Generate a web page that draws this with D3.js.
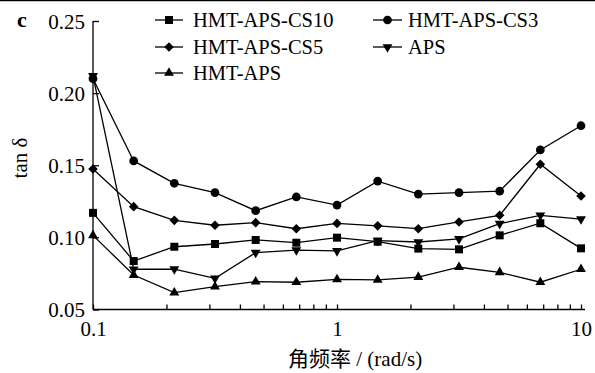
<!DOCTYPE html>
<html><head><meta charset="utf-8">
<script src="https://cdn.jsdelivr.net/npm/d3@7"></script>
<style>body{margin:0;background:#fff}svg{display:block}
svg text{font-family:"Liberation Serif","Times New Roman",Tinos,"DejaVu Serif","Noto Sans CJK SC",serif;fill:#000}</style>
</head><body>
<script>
const freqs = [0.1, 0.1468, 0.2154, 0.3162, 0.4642, 0.6813, 1, 1.468, 2.154, 3.162, 4.642, 6.813, 10];
const cs10 = [0.117, 0.0836, 0.0935, 0.0954, 0.0982, 0.0963, 0.0998, 0.097, 0.0922, 0.0917, 0.1014, 0.1098, 0.0924];
const cs3  = [0.210, 0.153, 0.1375, 0.131, 0.1185, 0.128, 0.1224, 0.139, 0.130, 0.131, 0.132, 0.1606, 0.1774];
const cs5  = [0.1474, 0.1213, 0.1118, 0.1084, 0.1102, 0.106, 0.1097, 0.108, 0.106, 0.1107, 0.1153, 0.1507, 0.1287];
const aps  = [0.212, 0.0779, 0.078, 0.0716, 0.0894, 0.0912, 0.0906, 0.0977, 0.0968, 0.0989, 0.1095, 0.1153, 0.1127];
const hmtAps = [0.1014, 0.0739, 0.0617, 0.0658, 0.0693, 0.0689, 0.0709, 0.0705, 0.0725, 0.0793, 0.0758, 0.0689, 0.0779];
const seriesNames = ["HMT-APS-CS10", "HMT-APS-CS3", "HMT-APS-CS5", "APS", "HMT-APS"];
const yTicks = [0.05, 0.10, 0.15, 0.20, 0.25];
const xTicks = [0.1, 1, 10];

const W = 595, H = 373;
const svg = d3.select("body").append("svg").attr("width", W).attr("height", H);

const x = d3.scaleLog().domain([0.1, 10]).range([93, 581]);
const y = d3.scaleLinear().domain([0.05, 0.25]).range([309.5, 21]);

// top border line
svg.append("line").attr("x1", 0).attr("x2", W).attr("y1", 0.5).attr("y2", 0.5)
  .attr("stroke", "#000").attr("stroke-width", 1.5);

// axes
const minor = d3.range(1, 10).map(d => d * 0.1).concat(d3.range(1, 10)).concat([10]);
const xAxis = d3.axisBottom(x).tickValues(minor).tickSize(-5)
  .tickFormat(d => { const r = +d.toPrecision(3); return xTicks.includes(r) ? String(r) : ""; });
const gx = svg.append("g").attr("transform", `translate(0,${y.range()[0]})`).call(xAxis);
gx.select(".domain").attr("d", `M${x.range()[0]},0H${x.range()[1] + 4}`);
gx.selectAll("text").attr("font-size", 21).attr("fill", "#000").attr("y", 9).attr("dy", "0.82em").attr("font-family", null);

const yAxis = d3.axisLeft(y).tickValues(yTicks).tickSize(-6).tickFormat(d3.format(".2f"));
const gy = svg.append("g").attr("transform", `translate(${x.range()[0]},0)`).call(yAxis);
gy.select(".domain").attr("d", `M0,${y.range()[0]}V${y.range()[1]}`);
gy.selectAll("text").attr("font-size", 21).attr("fill", "#000").attr("x", -8).attr("dy", "0.34em").attr("font-family", null);
gx.attr("font-family", null); gy.attr("font-family", null);
svg.selectAll(".domain, .tick line").attr("stroke", "#000").attr("stroke-width", 1.3);

// axis titles
svg.append("text").attr("x", 288).attr("y", 366).attr("font-size", 21)
  .text("角频率 / (rad/s)");
svg.append("text").attr("transform", "translate(27,158) rotate(-90)").attr("text-anchor", "middle")
  .attr("font-size", 21).text("tan δ");
svg.append("text").attr("x", 17).attr("y", 27).attr("font-size", 22)
  .attr("font-weight", "bold").text("c");

// markers
const sym = {
  square: d3.symbol().type(d3.symbolSquare).size(64),
  circle: d3.symbol().type(d3.symbolCircle).size(60),
  diamond: d3.symbol().type(d3.symbolSquare).size(46),
  down: d3.symbol().type(d3.symbolTriangle2).size(70),
  up: d3.symbol().type(d3.symbolTriangle2).size(70)
};
const seriesList = [
  {name: seriesNames[0], vals: cs10, s: "square"},
  {name: seriesNames[1], vals: cs3, s: "circle"},
  {name: seriesNames[2], vals: cs5, s: "diamond"},
  {name: seriesNames[3], vals: aps, s: "down"},
  {name: seriesNames[4], vals: hmtAps, s: "up"}
];
function marker(g, s, cx, cy) {
  g.append("path").attr("d", sym[s]()).attr("fill", "#000")
    .attr("transform", `translate(${cx},${cy})` + (s === "down" ? " rotate(180)" : "") + (s === "diamond" ? " rotate(45)" : ""));
}
const line = d3.line().x((d, i) => x(freqs[i])).y(d => y(d));
seriesList.forEach(sr => {
  const g = svg.append("g");
  g.append("path").attr("d", line(sr.vals)).attr("fill", "none").attr("stroke", "#000").attr("stroke-width", 1.3);
  sr.vals.forEach((v, i) => marker(g, sr.s, x(freqs[i]), y(v)));
});

// legend: [line start, line end, text x, y]
const legPos = [[155, 183, 193, 20], [373, 402, 408, 20], [155, 183, 193, 47], [373, 402, 408, 47], [155, 183, 193, 73]];
seriesList.forEach((sr, i) => {
  const [l0, l1, tx, ly] = legPos[i];
  const g = svg.append("g");
  g.append("line").attr("x1", l0).attr("x2", l1).attr("y1", ly).attr("y2", ly).attr("stroke", "#000").attr("stroke-width", 1.3);
  marker(g, sr.s, (l0 + l1) / 2, ly);
  g.append("text").attr("x", tx).attr("y", ly).attr("dy", "0.35em").attr("font-size", 20.5).text(sr.name);
});
</script>
</body></html>
